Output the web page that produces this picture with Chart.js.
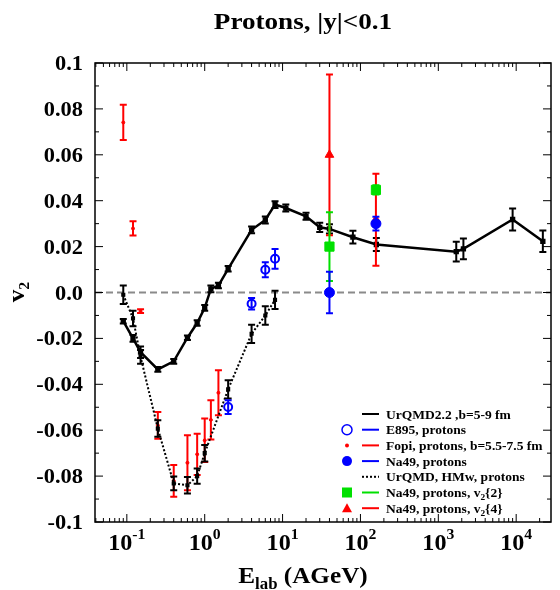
<!DOCTYPE html>
<html>
<head>
<meta charset="utf-8">
<title>Protons v2</title>
<style>
  body { margin: 0; background: #fff; }
</style>
</head>
<body>
<canvas id="myChart" width="560" height="590"></canvas>
<script src="https://cdn.jsdelivr.net/npm/chart.js@4.4.1/dist/chart.umd.min.js"></script>
<script>
// UrQMD2.2, b=5-9 fm (solid)
let urqmdE = [0.09, 0.12, 0.15, 0.25, 0.4, 0.6, 0.8, 1.0, 1.2, 1.5, 2, 4, 6, 8, 11, 20, 30, 40, 80, 160, 1700, 2100, 9000, 22000]
let urqmdV = [-0.0125, -0.020, -0.026, -0.0335, -0.0300, -0.0197, -0.0133, -0.0067, 0.0016, 0.003, 0.0103, 0.0273, 0.0316, 0.0383, 0.0368, 0.0332, 0.0284, 0.0277, 0.0241, 0.0209, 0.0178, 0.019, 0.0318, 0.0223]
let urqmdErr = [0.001, 0.0015, 0.0025, 0.001, 0.001, 0.001, 0.0012, 0.0012, 0.0015, 0.0012, 0.0012, 0.0015, 0.0015, 0.0015, 0.0015, 0.0015, 0.002, 0.002, 0.0028, 0.0028, 0.0043, 0.0045, 0.0048, 0.0047]
// UrQMD, HMw (dotted)
let hmwE = [0.09, 0.12, 0.15, 0.25, 0.4, 0.6, 0.8, 1.0, 2, 4, 6, 8]
let hmwV = [-0.001, -0.0113, -0.028, -0.0593, -0.0832, -0.084, -0.080, -0.070, -0.0422, -0.018, -0.010, -0.0032]
let hmwErr = [0.004, 0.0034, 0.003, 0.0036, 0.003, 0.0036, 0.0033, 0.0036, 0.004, 0.004, 0.004, 0.004]
// Fopi
let fopiE = [0.09, 0.12, 0.15, 0.25, 0.4, 0.6, 0.8, 1.0, 1.2, 1.5]
let fopiV = [0.0741, 0.0279, -0.0081, -0.0579, -0.0821, -0.0742, -0.0705, -0.0644, -0.0555, -0.0437]
let fopiErr = [0.0077, 0.0031, 0.0008, 0.0058, 0.0069, 0.012, 0.009, 0.0095, 0.0085, 0.0098]
// E895
let e895E = [2, 4, 6, 8]
let e895V = [-0.0499, -0.0049, 0.0099, 0.0147]
let e895Err = [0.003, 0.0025, 0.0033, 0.0043]
// Na49
let na49E = [40, 158]
let na49V = [0.0, 0.030]
let na49Err = [0.009, 0.003]
let na49v22V = [0.020, 0.0447]
let na49v22Err = [0.015, 0.002]
let na49v24V = [0.060, 0.0317]
let na49v24Err = [0.035, 0.020]

let xMin = 0.039, xMax = 28000
let yTicks = [-0.1, -0.08, -0.06, -0.04, -0.02, 0, 0.02, 0.04, 0.06, 0.08, 0.1]
let xDecades = [-1, 0, 1, 2, 3, 4]

function pts(xs, ys) { return xs.map((x, i) => ({ x: x, y: ys[i] })) }

const FONT = '"Liberation Serif", "Times New Roman", serif'

// text drawing, slightly stretched like the original figure
function rich(ctx, parts, x, y, align, sx) {
  sx = sx || 1.12
  let w = 0
  parts.forEach(p => { ctx.font = 'bold ' + p[1] + 'px ' + FONT; w += ctx.measureText(p[0]).width * sx })
  let cx = align === 'center' ? x - w / 2 : align === 'right' ? x - w : x
  parts.forEach(p => {
    ctx.font = 'bold ' + p[1] + 'px ' + FONT
    let pw = ctx.measureText(p[0]).width * sx
    ctx.save()
    ctx.translate(cx, y + (p[2] || 0))
    ctx.scale(sx, 1)
    ctx.textAlign = 'left'
    ctx.textBaseline = 'alphabetic'
    ctx.fillStyle = '#000'
    ctx.fillText(p[0], 0, 0)
    ctx.restore()
    cx += pw
  })
}

function marker(ctx, type, color, x, y) {
  ctx.save()
  ctx.fillStyle = color
  ctx.strokeStyle = color
  ctx.lineWidth = 1.5
  ctx.beginPath()
  if (type === 'open') { ctx.arc(x, y, 5, 0, Math.PI * 2); ctx.stroke() }
  else if (type === 'circle') { ctx.arc(x, y, 5, 0, Math.PI * 2); ctx.fill() }
  else if (type === 'dot') { ctx.arc(x, y, 2, 0, Math.PI * 2); ctx.fill() }
  else if (type === 'square') { ctx.fillRect(x - 5, y - 5, 10, 10) }
  else if (type === 'triangle') { ctx.moveTo(x, y - 5); ctx.lineTo(x + 5, y + 4); ctx.lineTo(x - 5, y + 4); ctx.closePath(); ctx.fill() }
  ctx.restore()
}

// error bars drawn under each dataset
const errorBars = {
  id: 'errorBars',
  beforeDatasetDraw(chart, args) {
    let ds = chart.data.datasets[args.index]
    if (!ds.errs) return
    let ctx = chart.ctx, xs = chart.scales.x, ys = chart.scales.y
    ctx.save()
    ctx.strokeStyle = ds.barColor
    ctx.lineWidth = 2
    ds.data.forEach((p, i) => {
      let px = xs.getPixelForValue(p.x)
      let top = ys.getPixelForValue(p.y + ds.errs[i])
      let bot = ys.getPixelForValue(p.y - ds.errs[i])
      ctx.beginPath()
      ctx.moveTo(px, top); ctx.lineTo(px, bot)
      ctx.moveTo(px - 3.5, top); ctx.lineTo(px + 3.5, top)
      ctx.moveTo(px - 3.5, bot); ctx.lineTo(px + 3.5, bot)
      ctx.stroke()
    })
    ctx.restore()
  }
}

// frame, inward ticks, labels, titles and legend
const decor = {
  id: 'decor',
  afterDraw(chart) {
    let ctx = chart.ctx, a = chart.chartArea, xs = chart.scales.x, ys = chart.scales.y
    ctx.save()
    ctx.strokeStyle = '#000'
    ctx.lineWidth = 1.5
    ctx.strokeRect(a.left, a.top, a.right - a.left, a.bottom - a.top)
    ctx.lineWidth = 1
    ctx.beginPath()
    for (let e = -2; e <= 4; e++) {
      for (let m = 1; m <= 9; m++) {
        let v = m * Math.pow(10, e)
        if (v < xMin || v > xMax) continue
        let px = xs.getPixelForValue(v)
        let len = m === 1 ? 8 : 4
        ctx.moveTo(px, a.bottom); ctx.lineTo(px, a.bottom - len)
        ctx.moveTo(px, a.top); ctx.lineTo(px, a.top + len)
      }
    }
    for (let k = -10; k <= 10; k++) {
      let py = ys.getPixelForValue(k / 100)
      let len = k % 2 === 0 ? 8 : 4
      ctx.moveTo(a.left, py); ctx.lineTo(a.left + len, py)
      ctx.moveTo(a.right, py); ctx.lineTo(a.right - len, py)
    }
    ctx.stroke()
    ctx.restore()

    // y tick labels
    yTicks.forEach(v => {
      let s = v === 0 ? '0.0' : String(Math.round(v * 100) / 100)
      rich(ctx, [[s, 20]], a.left - 12, ys.getPixelForValue(v) + 7, 'right', 1.12)
    })
    // x tick labels 10^n
    xDecades.forEach(e => {
      rich(ctx, [['10', 23], [String(e), 15, -11]], xs.getPixelForValue(Math.pow(10, e)), 550, 'center', 1.05)
    })

    // title and axis titles
    rich(ctx, [['Protons, |y|<0.1', 24]], 303, 29, 'center', 1.13)
    rich(ctx, [['E', 24], ['lab', 16, 6], [' (AGeV)', 24]], 303, 583, 'center', 1.05)
    ctx.save()
    ctx.translate(24, 292)
    ctx.rotate(-Math.PI / 2)
    rich(ctx, [['v', 24], ['2', 15, 5]], 0, 0, 'center', 1.05)
    ctx.restore()

    // legend
    let rows = [
      [null, '#000', [], [['UrQMD2.2 ,b=5-9 fm', 13]]],
      ['open', '#0000ff', [], [['E895, protons', 13]]],
      ['dot', '#ff0000', [], [['Fopi, protons, b=5.5-7.5 fm', 13]]],
      ['circle', '#0000ff', [], [['Na49, protons', 13]]],
      [null, '#000', [2, 2], [['UrQMD, HMw, protons', 13]]],
      ['square', '#00e000', [], [['Na49, protons, v', 13], ['2', 9, 3], ['{2}', 13]]],
      ['triangle', '#ff0000', [], [['Na49, protons, v', 13], ['2', 9, 3], ['{4}', 13]]]
    ]
    rows.forEach((r, i) => {
      let y = 414 + i * 15.7
      if (r[0]) marker(ctx, r[0], r[1], a.right - 204, y)
      ctx.save()
      ctx.strokeStyle = r[1]
      ctx.lineWidth = 2
      ctx.setLineDash(r[2])
      ctx.beginPath()
      ctx.moveTo(a.right - 189, y); ctx.lineTo(a.right - 172, y)
      ctx.stroke()
      ctx.restore()
      rich(ctx, r[3], a.right - 165, y + 4.5, 'left', 1.04)
    })
  }
}

let datasets = [
  { data: pts(na49E, na49V), errs: na49Err, barColor: '#0000ff', pointStyle: 'circle', pointRadius: 5,
    backgroundColor: '#0000ff', borderColor: '#0000ff', showLine: false },
  { data: pts(na49E, na49v22V), errs: na49v22Err, barColor: '#00e000', pointStyle: 'rect', pointRadius: 6.5,
    backgroundColor: '#00e000', borderColor: '#00e000', showLine: false },
  { data: pts(na49E, na49v24V), errs: na49v24Err, barColor: '#ff0000', pointStyle: 'triangle', pointRadius: 5,
    backgroundColor: '#ff0000', borderColor: '#ff0000', showLine: false },
  { data: pts(e895E, e895V), errs: e895Err, barColor: '#0000ff', pointStyle: 'circle', pointRadius: 4,
    backgroundColor: 'rgba(0,0,0,0)', borderColor: '#0000ff', pointBorderWidth: 2, showLine: false },
  { data: pts(urqmdE, urqmdV), errs: urqmdErr, barColor: '#000', pointStyle: 'rect', pointRadius: 2,
    backgroundColor: '#000', borderColor: '#000', borderWidth: 2.5, showLine: true },
  { data: pts(hmwE, hmwV), errs: hmwErr, barColor: '#000', pointStyle: 'rect', pointRadius: 1.5,
    backgroundColor: '#000', borderColor: '#000', borderWidth: 2, borderDash: [2, 2], showLine: true },
  { data: pts(fopiE, fopiV), errs: fopiErr, barColor: '#ff0000', pointStyle: 'circle', pointRadius: 1.5,
    backgroundColor: '#ff0000', borderColor: '#ff0000', showLine: false },
  { data: [{ x: xMin, y: 0 }, { x: xMax, y: 0 }], pointRadius: 0, borderColor: '#8a8a8a',
    borderWidth: 2, borderDash: [7, 4], showLine: true }
]

let graph = new Chart(document.getElementById('myChart'), {
  type: 'scatter',
  data: { datasets: datasets },
  options: {
    responsive: false,
    animation: false,
    layout: { padding: { top: 63, right: 9, left: 95, bottom: 68 } },
    plugins: { legend: { display: false }, tooltip: { enabled: false }, title: { display: false } },
    scales: {
      x: { type: 'logarithmic', display: false, min: xMin, max: xMax },
      y: { display: false, min: -0.1, max: 0.1 }
    }
  },
  plugins: [errorBars, decor]
})
</script>
</body>
</html>
